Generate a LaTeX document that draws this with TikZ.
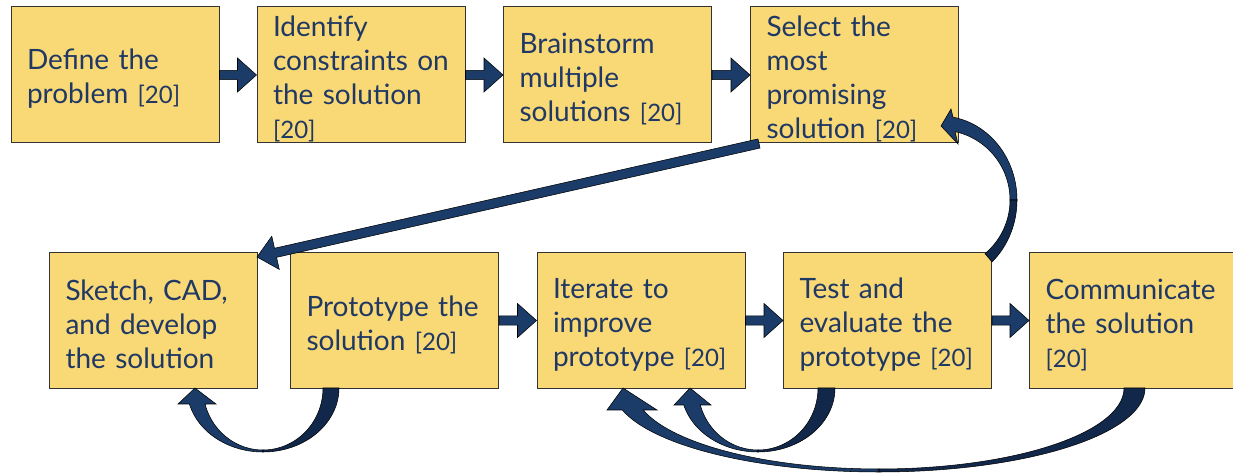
\documentclass[tikz,border=0pt]{standalone}
\usepackage{fontspec}
\setmainfont{Lato}
\usetikzlibrary{calc}
\definecolor{boxc}{RGB}{249,216,118}
\definecolor{txtc}{RGB}{31,56,100}
\definecolor{arrc}{RGB}{27,60,104}
\definecolor{arrd}{RGB}{18,40,74}
\newcommand\refnum{{\fontsize{18}{25.5}\selectfont[20]}}
\newcommand\blkarrow[2]{%
  \coordinate (bh) at ($(#2)!14.25pt!(#1)$);
  \filldraw[blk] ($(#1)!3.5pt!90:(#2)$) -- ($(bh)!3.5pt!90:(#2)$) -- ($(bh)!12.75pt!90:(#2)$) -- (#2)
    -- ($(bh)!12.75pt!-90:(#2)$) -- ($(bh)!3.5pt!-90:(#2)$) -- ($(#1)!3.5pt!-90:(#2)$) -- cycle;}
\tikzset{
  box/.style={draw=black!80, line width=0.75pt, fill=boxc, text=txtc,
    minimum width=156pt, minimum height=102pt, text width=132pt,
    inner xsep=12pt, inner ysep=0pt, align=left,
    font=\fontsize{21}{25.5}\selectfont,
    execute at begin node={\rule{0pt}{21.5pt}}},
  blk/.style={fill=arrc, draw=black, line width=0.4pt, line join=miter},
  carr/.style={fill=arrc, draw=black, line width=0.4pt},
  carrd/.style={fill=arrd, draw=black, line width=0.4pt},
}
\begin{document}
\begin{tikzpicture}[x=0.75pt, y=-0.75pt]
\useasboundingbox (0,0) rectangle (1233,473);
% boxes
\node[box] (b1) at (115,75) {Define~the\\problem~\refnum};
\node[box] (b2) at (361,75) {Identify\\constraints~on\\the~solution\\\refnum};
\node[box] (b3) at (607.5,75) {Brainstorm\\multiple\\solutions~\refnum};
\node[box] (b4) at (854.5,75) {Select~the\\most\\promising\\solution~\refnum};
\node[box] (b5) at (153.5,320.5) {Sketch,~CAD,\\and~develop\\the~solution};
\node[box] (b6) at (394.5,320.5) {Prototype~the\\solution~\refnum};
\node[box] (b7) at (641,320.5) {Iterate~to\\improve\\prototype~\refnum};
\node[box] (b8) at (887.5,320.5) {Test~and\\evaluate~the\\prototype~\refnum};
\node[box] (b9) at (1133.5,320.5) {Communicate\\the~solution\\\refnum};
% straight block arrows
\blkarrow{b1.east}{b2.west}
\blkarrow{b2.east}{b3.west}
\blkarrow{b3.east}{b4.west}
\blkarrow{b6.east}{b7.west}
\blkarrow{b7.east}{b8.west}
\blkarrow{b8.east}{b9.west}
\coordinate (dtail) at ($(b4.south west)+(9,0)$);
\coordinate (dtip) at ($(b5.north east)+(-1,5)$);
\blkarrow{dtail}{dtip}
% curved arrow b6 -> b5
\filldraw[carr] (195,388) -- (216,404)
  -- plot[domain=165.04:90, samples=40, variable=\t] ({263+60*cos(\t)},{388+62*sin(\t)})
  -- plot[domain=90:165.52, samples=40, variable=\t] ({263+76*cos(\t)},{388+64*sin(\t)})
  -- (178,404) -- cycle;
\filldraw[carrd] plot[domain=90:0, samples=40, variable=\t] ({263+60*cos(\t)},{388+62*sin(\t)})
  -- plot[domain=0:90, samples=40, variable=\t] ({263+76*cos(\t)},{388+64*sin(\t)}) -- cycle;
% curved arrow b8 -> b7
\filldraw[carr] (690,388) -- (711,405)
  -- plot[domain=164.09:90, samples=40, variable=\t] ({758+60*cos(\t)},{388+62*sin(\t)})
  -- plot[domain=90:164.60, samples=40, variable=\t] ({758+77*cos(\t)},{388+64*sin(\t)})
  -- (674,405) -- cycle;
\filldraw[carrd] plot[domain=90:0, samples=40, variable=\t] ({758+60*cos(\t)},{388+62*sin(\t)})
  -- plot[domain=0:90, samples=40, variable=\t] ({758+77*cos(\t)},{388+64*sin(\t)}) -- cycle;
% curved arrow b9 -> b7
\filldraw[carr] (623,388) -- (657,410)
  -- plot[domain=164.24:90, samples=60, variable=\t] ({879+245*cos(\t)},{388+81*sin(\t)})
  -- plot[domain=90:164.82, samples=60, variable=\t] ({879+266*cos(\t)},{388+84*sin(\t)})
  -- (607,410) -- cycle;
\filldraw[carrd] plot[domain=90:0, samples=60, variable=\t] ({879+245*cos(\t)},{388+81*sin(\t)})
  -- plot[domain=0:90, samples=60, variable=\t] ({879+266*cos(\t)},{388+84*sin(\t)}) -- cycle;
% curved arrow b8 -> b4
\filldraw[carr] (941,126) -- (951,109)
  -- plot[domain=-80.28:0, samples=40, variable=\t] ({940+77*cos(\t)},{200+84*sin(\t)})
  -- plot[domain=0:-77.63, samples=40, variable=\t] ({940+70*cos(\t)},{200+70*sin(\t)})
  -- (958,144) -- cycle;
\filldraw[carrd] plot[domain=0:47.5, samples=40, variable=\t] ({940+77*cos(\t)},{200+84*sin(\t)})
  -- plot[domain=50:0, samples=40, variable=\t] ({940+70*cos(\t)},{200+70*sin(\t)}) -- cycle;
\end{tikzpicture}
\end{document}
